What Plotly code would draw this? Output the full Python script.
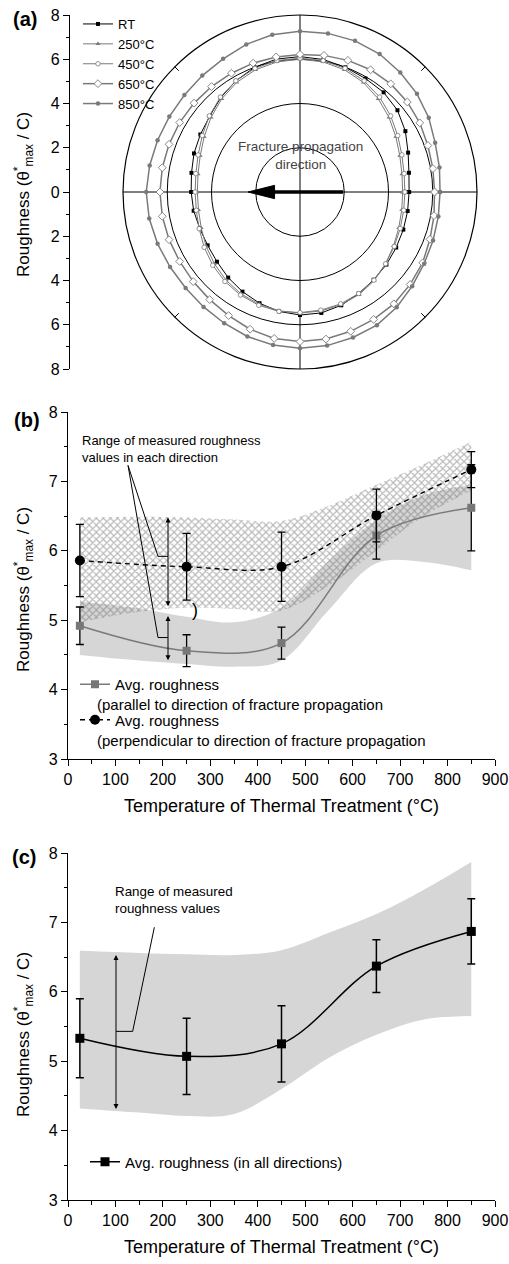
import plotly.graph_objects as go

FONT = "Arial, Liberation Sans, sans-serif"

# ---------------- Panel (a): roughness vs direction (degrees, CCW from +x) -------------
angles_deg = list(range(0, 360, 10))
rough_RT = [4.93, 5.00, 5.20, 5.50, 5.75, 5.88, 5.92, 6.00, 6.08, 6.12, 6.10, 6.00,
            5.80, 5.57, 5.33, 5.20, 5.10, 4.98, 4.92, 4.88, 4.82, 4.82, 4.90, 5.05,
            5.20, 5.35, 5.48, 5.56, 5.55, 5.45, 5.30, 5.18, 5.10, 5.02, 4.97, 4.94]
rough_250 = [4.64, 4.68, 4.80, 5.00, 5.25, 5.50, 5.72, 5.88, 5.97, 6.00, 5.97, 5.88,
             5.72, 5.50, 5.25, 5.00, 4.80, 4.68, 4.64, 4.66, 4.75, 4.90, 5.05, 5.20,
             5.32, 5.40, 5.45, 5.47, 5.46, 5.42, 5.35, 5.22, 5.05, 4.88, 4.75, 4.67]
rough_450 = [4.74, 4.78, 4.90, 5.10, 5.35, 5.60, 5.80, 5.95, 6.03, 6.05, 6.03, 5.95,
             5.80, 5.60, 5.35, 5.10, 4.90, 4.78, 4.74, 4.76, 4.85, 5.00, 5.15, 5.28,
             5.38, 5.45, 5.48, 5.45, 5.42, 5.38, 5.30, 5.20, 5.05, 4.92, 4.82, 4.76]
rough_650 = [6.08, 6.10, 6.15, 6.25, 6.33, 6.38, 6.38, 6.33, 6.27, 6.22, 6.20, 6.20,
             6.20, 6.22, 6.25, 6.28, 6.30, 6.32, 6.33, 6.32, 6.30, 6.28, 6.30, 6.35,
             6.45, 6.60, 6.72, 6.76, 6.75, 6.70, 6.65, 6.60, 6.50, 6.40, 6.25, 6.15]
rough_850 = [6.33, 6.40, 6.50, 6.72, 6.90, 7.05, 7.20, 7.27, 7.28, 7.27, 7.22, 7.10,
             6.95, 6.87, 6.82, 6.82, 6.85, 6.90, 6.95, 6.92, 6.85, 6.78, 6.75, 6.78,
             6.85, 6.95, 7.02, 7.06, 7.05, 7.00, 6.95, 6.80, 6.62, 6.48, 6.40, 6.35]
series_names_a = ["RT", "250°C", "450°C", "650°C", "850°C"]
polar_ticks = [-8, -6, -4, -2, 0, 2, 4, 6, 8]
polar_ticktext = ["8", "6", "4", "2", "0", "2", "4", "6", "8"]

# ---------------- Panel (b) -------------
temps = [25, 250, 450, 650, 850]
par_avg = [4.92, 4.56, 4.67, 6.22, 6.62]
par_err = [0.27, 0.23, 0.23, 0.34, 0.62]
perp_avg = [5.86, 5.77, 5.77, 6.51, 7.17]
perp_err = [0.52, 0.48, 0.50, 0.38, 0.26]

band_x = [25, 150, 250, 350, 450, 550, 650, 750, 850]
par_low = [4.50, 4.42, 4.37, 4.33, 4.42, 5.15, 5.82, 5.84, 5.72]
par_high = [5.27, 5.17, 5.05, 4.97, 5.18, 5.85, 6.45, 6.80, 6.95]
perp_low = [4.97, 5.12, 5.18, 5.16, 5.14, 5.50, 6.00, 6.50, 6.87]
perp_high = [6.48, 6.49, 6.48, 6.45, 6.43, 6.65, 6.95, 7.25, 7.57]

# ---------------- Panel (c) -------------
all_avg = [5.33, 5.07, 5.25, 6.37, 6.87]
all_err = [0.57, 0.55, 0.55, 0.38, 0.47]
all_low = [4.32, 4.26, 4.21, 4.24, 4.60, 5.05, 5.38, 5.60, 5.65]
all_high = [6.59, 6.56, 6.54, 6.53, 6.60, 6.85, 7.12, 7.47, 7.87]

xticks = list(range(0, 1000, 100))

# ---------------- geometry helpers (pixels -> paper) -------------
W, H = 509, 1264
ML, MR, MT, MB = 68, 14, 15, 64
PW, PH = W - ML - MR, H - MT - MB


def pxp(p):
    return (p - ML) / PW


def pyp(p):
    return (H - MB - p) / PH


GRAY = "#7a7a7a"
fig = go.Figure()

# ---------------- Panel (a) traces -------------
styles_a = [
    dict(line=dict(color="black", width=1), marker=dict(symbol="square", size=4, color="black")),
    dict(line=dict(color=GRAY, width=1), marker=dict(symbol="triangle-up", size=4.5, color=GRAY)),
    dict(line=dict(color=GRAY, width=1), marker=dict(symbol="circle", size=4.5, color="white",
                                                     line=dict(color=GRAY, width=0.8))),
    dict(line=dict(color=GRAY, width=1.5), marker=dict(symbol="diamond", size=6, color="white",
                                                       line=dict(color=GRAY, width=0.9))),
    dict(line=dict(color=GRAY, width=1.5), marker=dict(symbol="circle", size=4.5, color=GRAY)),
]
for name, r, st in zip(series_names_a, [rough_RT, rough_250, rough_450, rough_650, rough_850], styles_a):
    fig.add_trace(go.Scatterpolar(
        r=r + r[:1], theta=angles_deg + angles_deg[:1], mode="lines+markers",
        name=name, subplot="polar", legend="legend", **st))

# ---------------- Panel (b) traces -------------
NOLINE = dict(width=0, shape="spline", color="rgba(0,0,0,0)")
fig.add_trace(go.Scatter(x=band_x, y=par_low, mode="lines", line=NOLINE,
                         xaxis="x2", yaxis="y2", showlegend=False, hoverinfo="skip"))
fig.add_trace(go.Scatter(x=band_x, y=par_high, mode="lines", line=NOLINE,
                         fill="tonexty", fillcolor="#d6d6d6",
                         xaxis="x2", yaxis="y2", showlegend=False, hoverinfo="skip"))
fig.add_trace(go.Scatter(x=band_x, y=perp_low, mode="lines", line=NOLINE,
                         xaxis="x2", yaxis="y2", showlegend=False, hoverinfo="skip"))
fig.add_trace(go.Scatter(x=band_x, y=perp_high, mode="lines", line=NOLINE,
                         fill="tonexty", fillcolor="rgba(0,0,0,0)",
                         fillpattern=dict(shape="x", fgcolor="#6e6e6e", bgcolor="rgba(255,255,255,0)",
                                          size=5, solidity=0.4),
                         xaxis="x2", yaxis="y2", showlegend=False, hoverinfo="skip"))
fig.add_trace(go.Scatter(x=temps, y=par_avg, mode="lines+markers", name="Avg. roughness",
                         line=dict(color=GRAY, width=1.5, shape="spline"),
                         marker=dict(symbol="square", size=8, color="#777777"),
                         error_y=dict(type="data", array=par_err, color="black", thickness=1.3, width=4),
                         xaxis="x2", yaxis="y2", legend="legend2", legendgroup="par"))
fig.add_trace(go.Scatter(x=temps, y=perp_avg, mode="lines+markers", name="Avg. roughness",
                         line=dict(color="black", width=1.4, shape="spline", dash="5px,4px"),
                         marker=dict(symbol="circle", size=10, color="black"),
                         error_y=dict(type="data", array=perp_err, color="black", thickness=1.3, width=4),
                         xaxis="x2", yaxis="y2", legend="legend2", legendgroup="perp"))

# ---------------- Panel (c) traces -------------
fig.add_trace(go.Scatter(x=band_x, y=all_low, mode="lines", line=NOLINE,
                         xaxis="x3", yaxis="y3", showlegend=False, hoverinfo="skip"))
fig.add_trace(go.Scatter(x=band_x, y=all_high, mode="lines", line=NOLINE,
                         fill="tonexty", fillcolor="#d6d6d6",
                         xaxis="x3", yaxis="y3", showlegend=False, hoverinfo="skip"))
fig.add_trace(go.Scatter(x=temps, y=all_avg, mode="lines+markers", name="Avg. roughness (in all directions)",
                         line=dict(color="black", width=1.5, shape="spline"),
                         marker=dict(symbol="square", size=9, color="black"),
                         error_y=dict(type="data", array=all_err, color="black", thickness=1.5, width=4),
                         xaxis="x3", yaxis="y3", legend="legend3"))

# ---------------- axes -------------
tickfont = dict(family=FONT, size=16, color="black")
common_y = dict(showline=True, linecolor="black", linewidth=1.2, ticks="outside", ticklen=6,
                tickwidth=1.2, tickcolor="black", showgrid=False, zeroline=False, tickfont=tickfont,
                automargin=False)
common_x = dict(showline=True, linecolor="black", linewidth=1.2, ticks="outside", ticklen=6,
                tickwidth=1.2, tickcolor="black", showgrid=False, zeroline=False, tickfont=tickfont,
                range=[0, 900], tickvals=xticks, automargin=False,
                minor=dict(ticks="outside", ticklen=4, tickcolor="black", dtick=50, showgrid=False),
                title=dict(text="Temperature of Thermal Treatment (°C)",
                           font=dict(family=FONT, size=18, color="black"), standoff=12))

cx = 300  # polar centre in px
unit = 354 / 16
fig.update_layout(
    width=W, height=H, margin=dict(l=ML, r=MR, t=MT, b=MB, autoexpand=False),
    paper_bgcolor="white", plot_bgcolor="rgba(0,0,0,0)",
    font=dict(family=FONT, color="black"),
    xaxis=dict(domain=[pxp(70), 1], anchor="y", range=[-(cx - 70) / unit, (ML + PW - cx) / unit],
               visible=False, automargin=False),
    yaxis=dict(domain=[pyp(369), pyp(15)], anchor="x", range=[-8, 8], tickvals=polar_ticks,
               ticktext=polar_ticktext, **common_y,
               minor=dict(ticks="outside", ticklen=3, tickcolor="black", dtick=1, showgrid=False)),
    polar=dict(domain=dict(x=[pxp(cx - 177), pxp(cx + 177)], y=[pyp(369), pyp(15)]),
               bgcolor="rgba(0,0,0,0)",
               radialaxis=dict(range=[0, 8], tickvals=[2, 4, 6], showticklabels=False, ticks="",
                               showline=False, gridcolor="black", gridwidth=1),
               angularaxis=dict(rotation=0, direction="counterclockwise", dtick=90,
                                showticklabels=False, ticks="", showline=True, linecolor="black",
                                linewidth=1.2, gridcolor="black", gridwidth=1)),
    xaxis2=dict(domain=[0, 1], anchor="y2", **common_x),
    yaxis2=dict(domain=[pyp(759), pyp(412)], anchor="x2", range=[3, 8], dtick=1, **common_y,
                minor=dict(ticks="outside", ticklen=3, tickcolor="black", dtick=0.5, showgrid=False)),
    xaxis3=dict(domain=[0, 1], anchor="y3", **common_x),
    yaxis3=dict(domain=[0, pyp(853)], anchor="x3", range=[3, 8], dtick=1, **common_y,
                minor=dict(ticks="outside", ticklen=3, tickcolor="black", dtick=0.5, showgrid=False)),
    legend=dict(x=pxp(78), y=pyp(9), xanchor="left", yanchor="top", bgcolor="rgba(0,0,0,0)",
                font=dict(family=FONT, size=13), traceorder="normal", tracegroupgap=0),
    legend2=dict(x=pxp(75), y=pyp(668), xanchor="left", yanchor="top", bgcolor="rgba(0,0,0,0)",
                 font=dict(family=FONT, size=15), traceorder="grouped", tracegroupgap=13),
    legend3=dict(x=pxp(85), y=pyp(1162), xanchor="left", yanchor="middle", bgcolor="rgba(0,0,0,0)",
                 font=dict(family=FONT, size=15), traceorder="normal"),
    showlegend=True,
)

# ---------------- annotations -------------
ann = []
ytitle = "Roughness (θ<sup>*</sup><sub>max</sub> / C)"
for yc in (195, 590, 1035):
    ann.append(dict(text=ytitle, xref="paper", yref="paper", x=pxp(23), y=pyp(yc), textangle=-90,
                    showarrow=False, font=dict(family=FONT, size=17), xanchor="center", yanchor="middle"))
for lab, yc, xc in (("(a)", 19, 25), ("(b)", 420, 27), ("(c)", 857, 24)):
    ann.append(dict(text="<b>" + lab + "</b>", xref="paper", yref="paper", x=pxp(xc), y=pyp(yc),
                    showarrow=False, font=dict(family=FONT, size=20), xanchor="center", yanchor="middle"))
ann.append(dict(text="Fracture propagation<br>direction", xref="x", yref="y", x=0, y=1.67,
                showarrow=False, font=dict(family=FONT, size=13.5, color="#444444")))
ann.append(dict(text="Range of measured roughness<br>values in each direction", xref="x2", yref="y2",
                x=25.3, y=7.46, xanchor="left", yanchor="middle", align="left", showarrow=False,
                font=dict(family=FONT, size=13)))
ann.append(dict(text=")", xref="x2", yref="y2", x=268, y=5.15, showarrow=False,
                font=dict(family=FONT, size=18)))
ann.append(dict(text="(parallel to direction of fracture propagation", xref="paper", yref="paper",
                x=pxp(95), y=pyp(704), xanchor="left", yanchor="middle", showarrow=False,
                font=dict(family=FONT, size=15)))
ann.append(dict(text="(perpendicular to direction of fracture propagation", xref="paper", yref="paper",
                x=pxp(95), y=pyp(740), xanchor="left", yanchor="middle", showarrow=False,
                font=dict(family=FONT, size=15)))
ann.append(dict(text="Range of measured<br>roughness values", xref="x3", yref="y3",
                x=94.8, y=7.33, xanchor="left", yanchor="middle", align="left", showarrow=False,
                font=dict(family=FONT, size=13.4)))
# double-headed range arrows
for (xr, yr, xa, y0, y1) in (("x2", "y2", 210.8, 6.48, 5.18), ("x2", "y2", 210.8, 5.06, 4.40),
                             ("x3", "y3", 101.2, 6.53, 4.29)):
    ann.append(dict(text="", xref=xr, yref=yr, axref=xr, ayref=yr, x=xa, y=y0, ax=xa, ay=y1,
                    showarrow=True, arrowhead=2, startarrowhead=2, arrowside="end+start",
                    arrowsize=1, startarrowsize=1, arrowwidth=1, arrowcolor="black"))
fig.update_layout(annotations=ann)

# ---------------- shapes (leader lines, arrow, outer ticks) -------------
shapes = []
shapes.append(dict(type="path", xref="x2", yref="y2",
                   path="M 126.5 7.23 L 189.7 5.92 L 210.8 5.92", line=dict(color="black", width=1)))
shapes.append(dict(type="path", xref="x2", yref="y2",
                   path="M 126.5 7.23 L 189.7 4.75 L 210.8 4.75", line=dict(color="black", width=1)))
shapes.append(dict(type="path", xref="x3", yref="y3",
                   path="M 182 6.93 L 136.3 5.43 L 101.2 5.43", line=dict(color="black", width=1)))
# fracture direction arrow
shapes.append(dict(type="line", xref="x", yref="y", x0=1.95, y0=0, x1=-1.3, y1=0,
                   line=dict(color="black", width=3.5)))
shapes.append(dict(type="path", xref="x", yref="y", path="M -2.35 0 L -1.15 0.3 L -1.15 -0.3 Z",
                   fillcolor="black", line=dict(color="black", width=1)))
# small ticks at 45 degrees on the outer circle
c = 0.7071
for sx, sy in ((1, 1), (-1, 1), (-1, -1), (1, -1)):
    shapes.append(dict(type="line", xref="x", yref="y", x0=sx * 7.75 * c, y0=sy * 7.75 * c,
                       x1=sx * 8 * c, y1=sy * 8 * c, line=dict(color="black", width=1)))
fig.update_layout(shapes=shapes)

fig.write_html("out.html")
